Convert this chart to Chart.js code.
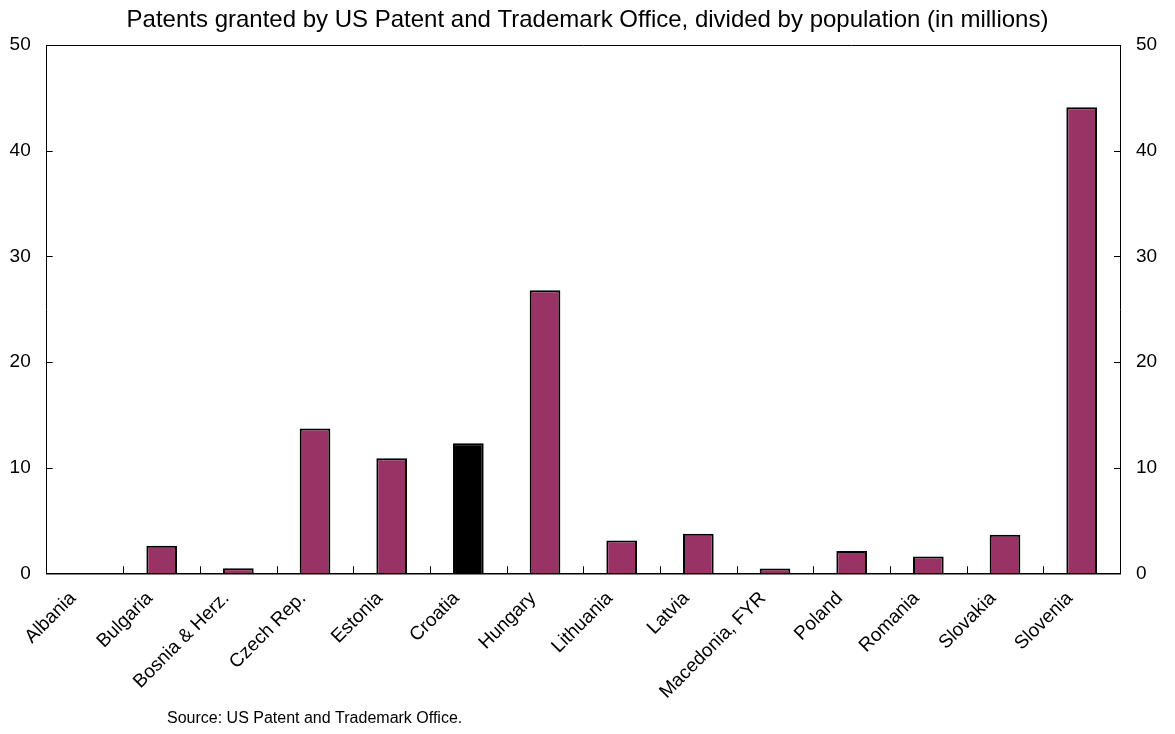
<!DOCTYPE html>
<html>
<head>
<meta charset="utf-8">
<script src="https://cdn.jsdelivr.net/npm/chart.js@4"></script>
<style>
  html, body { margin: 0; padding: 0; background: #fff; }
  #wrap { width: 1175px; height: 734px; }
</style>
</head>
<body>
<div id="wrap"><canvas id="myChart"></canvas></div>
<script>
const countries = ['Albania', 'Bulgaria', 'Bosnia & Herz.', 'Czech Rep.', 'Estonia', 'Croatia', 'Hungary',
  'Lithuania', 'Latvia', 'Macedonia, FYR', 'Poland', 'Romania', 'Slovakia', 'Slovenia'];
const patents = [0, 2.6, 0.47, 13.7, 10.9, 12.3, 26.8, 3.1, 3.75, 0.45, 2.1, 1.6, 3.65, 44.1];
const highlight = 'Croatia';
const yTicks = [0, 10, 20, 30, 40, 50];

const titleText = 'Patents granted by US Patent and Trademark Office, divided by population (in millions)';
const sourceText = 'Source: US Patent and Trademark Office.';

const fontFamily = '"Liberation Sans", Arial, sans-serif';
Chart.defaults.font.family = fontFamily;
Chart.defaults.color = '#000';

const barColors = countries.map(c => c === highlight ? '#000000' : '#993366');

// inward tick marks, frame top line, source note
const framePlugin = {
  id: 'frame',
  afterDraw(chart) {
    const c = chart.ctx;
    const area = chart.chartArea;
    const x = chart.scales.x;
    const yl = chart.scales.y;
    const yr = chart.scales.y2;
    c.save();
    c.strokeStyle = '#000';
    c.lineWidth = 1;
    c.beginPath();
    c.moveTo(area.left, area.top + 0.5);
    c.lineTo(area.right, area.top + 0.5);
    yl.ticks.forEach(t => {
      const py = Math.round(yl.getPixelForValue(t.value)) + 0.5;
      c.moveTo(area.left, py); c.lineTo(area.left + 6, py);
    });
    yr.ticks.forEach(t => {
      const py = Math.round(yr.getPixelForValue(t.value)) + 0.5;
      c.moveTo(area.right - 6, py); c.lineTo(area.right, py);
    });
    const half = (x.getPixelForValue(1) - x.getPixelForValue(0)) / 2;
    for (let i = 1; i < countries.length; i++) {
      const px = Math.round(x.getPixelForValue(i) - half) + 0.5;
      c.moveTo(px, area.bottom); c.lineTo(px, area.bottom - 7);
    }
    c.stroke();
    c.fillStyle = '#000';
    c.font = '16px ' + fontFamily;
    c.textBaseline = 'middle';
    c.fillText(sourceText, 167, 719);
    c.restore();
  }
};

new Chart(document.querySelector('#myChart'), {
  type: 'bar',
  data: {
    labels: countries,
    datasets: [{
      data: patents,
      backgroundColor: barColors,
      borderColor: '#000',
      borderWidth: 2,
      barPercentage: 0.4,
      categoryPercentage: 1.0,
      yAxisID: 'y'
    }]
  },
  options: {
    responsive: true,
    maintainAspectRatio: false,
    animation: false,
    layout: { padding: 0 },
    plugins: {
      legend: { display: false },
      tooltip: { enabled: false },
      title: {
        display: true,
        text: titleText,
        font: { size: 24, weight: 'normal' },
        padding: { top: 6, bottom: 10.2 }
      }
    },
    scales: {
      x: {
        grid: { display: false },
        border: { display: true, color: '#000', width: 1.5 },
        ticks: { maxRotation: 45, minRotation: 45, autoSkip: false, font: { size: 19 }, padding: 6, labelOffset: -12 },
        afterFit(s) { s.height = 160.7; }
      },
      y: {
        position: 'left',
        min: 0, max: 50,
        afterBuildTicks(s) { s.ticks = yTicks.map(v => ({ value: v })); },
        grid: { display: false, drawTicks: false },
        border: { display: true, color: '#000', width: 1 },
        ticks: { font: { size: 19 }, padding: 16 },
        afterFit(s) { s.width = 46.7; }
      },
      y2: {
        position: 'right',
        min: 0, max: 50,
        afterBuildTicks(s) { s.ticks = yTicks.map(v => ({ value: v })); },
        grid: { display: false, drawTicks: false },
        border: { display: true, color: '#000', width: 1 },
        ticks: { font: { size: 19 }, padding: 16 },
        afterFit(s) { s.width = 55; }
      }
    }
  },
  plugins: [framePlugin]
});
</script>
</body>
</html>
